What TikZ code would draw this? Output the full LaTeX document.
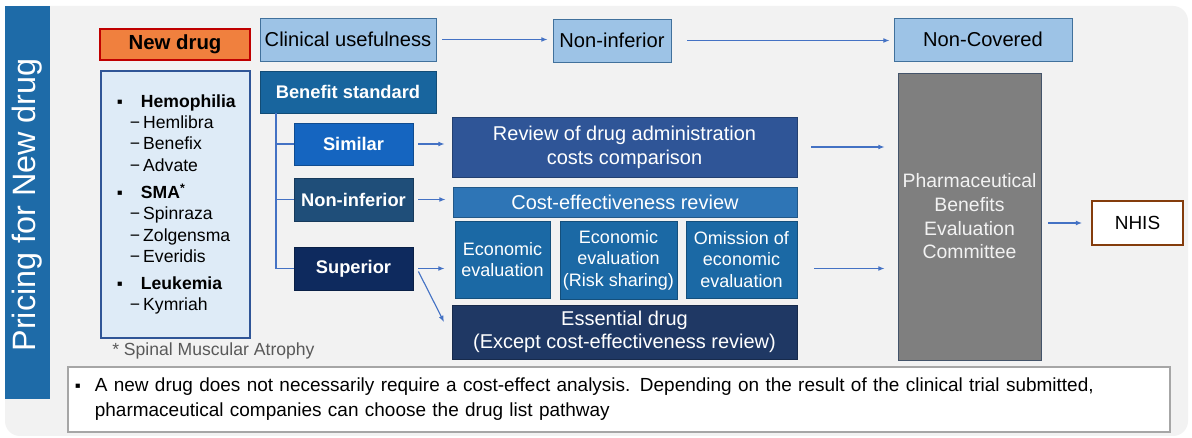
\documentclass[tikz,border=0pt]{standalone}
\usepackage{fontspec}
\setmainfont{Liberation Sans}
\usetikzlibrary{arrows.meta}

\definecolor{panelgray}{RGB}{242,242,242}
\definecolor{barblue}{RGB}{30,107,168}
\definecolor{orangefill}{RGB}{240,128,62}
\definecolor{redline}{RGB}{192,0,0}
\definecolor{lightblue}{RGB}{157,195,230}
\definecolor{lightedge}{RGB}{65,113,156}
\definecolor{listfill}{RGB}{222,235,247}
\definecolor{listedge}{RGB}{47,85,151}
\definecolor{stdblue}{RGB}{24,101,158}
\definecolor{simblue}{RGB}{21,101,192}
\definecolor{nonblue}{RGB}{31,78,121}
\definecolor{supblue}{RGB}{14,42,94}
\definecolor{revblue}{RGB}{47,85,151}
\definecolor{ceblue}{RGB}{46,117,182}
\definecolor{ecoblue}{RGB}{27,105,165}
\definecolor{essblue}{RGB}{31,56,100}
\definecolor{committee}{RGB}{127,127,127}
\definecolor{committeeedge}{RGB}{68,84,106}
\definecolor{brownline}{RGB}{132,60,12}
\definecolor{arrowblue}{RGB}{68,114,196}
\definecolor{notegray}{RGB}{89,89,89}

% one pixel of the layout grid
\def\px{0.025cm}
\newlength\pxl \setlength\pxl{0.025cm}
\newcommand\fsz[2]{\fontsize{#1}{#2}\selectfont}
\newcommand\dgroup[1]{\makebox[24\pxl][l]{\fsz{12}{10}▪}\textbf{#1}}
\newcommand\ditem[1]{\hspace*{13\pxl}−\hspace{3\pxl}#1}

\tikzset{
  box/.style={rectangle, draw, align=center, inner sep=1pt, line width=0.6pt},
  lightbox/.style={box, fill=lightblue, draw=lightedge, text=black, font=\fsz{14.3}{17}},
  darkbox/.style={box, fill=#1, draw=#1!75!black, text=white, font=\fsz{14}{17}},
  flow/.style={draw=arrowblue, line width=0.8pt, -{Latex[length=4.5pt,width=3.5pt]}},
  link/.style={draw=arrowblue, line width=0.8pt},
}

\begin{document}
\begin{tikzpicture}[x=0.025cm, y=-0.025cm]
\useasboundingbox (0,0) rectangle (1192,438);
\fill[white] (0,0) rectangle (1192,438);
\fill[panelgray, rounded corners=0.375cm] (5,6) rectangle (1188,436);
\fill[barblue] (5,6) rectangle (50,399);
\node[rotate=90, text=white, font=\fsz{23}{27}] (title) at (27.5,205) {Pricing for New drug};

% top row
\node[box, fill=orangefill, draw=redline, line width=1pt, font=\fsz{14.5}{17}\bfseries,
      minimum width=150*\px, minimum height=31*\px] (newdrug) at (175,44.5) {New drug};
\node[lightbox, minimum width=176*\px, minimum height=43*\px] (clin) at (348,39.5) {Clinical usefulness};
\node[lightbox, minimum width=118*\px, minimum height=43*\px] (noninf) at (612,40.5) {Non-inferior};
\node[lightbox, minimum width=178*\px, minimum height=43*\px] (noncov) at (983,39.5) {Non-Covered};

% disease list
\node[box, fill=listfill, draw=listedge, line width=1pt, align=left, text width=2.925cm,
      inner xsep=0.4cm, minimum height=267*\px, font=\fsz{12.5}{15.2}] (drugs) at (175.5,204.5) {%
  \dgroup{Hemophilia}\\ \ditem{Hemlibra}\\ \ditem{Benefix}\\ \ditem{Advate}\\[4pt]
  \dgroup{SMA\textsuperscript{*}}\\ \ditem{Spinraza}\\ \ditem{Zolgensma}\\ \ditem{Everidis}\\[4pt]
  \dgroup{Leukemia}\\ \ditem{Kymriah}};
\node[anchor=west, text=notegray, inner sep=0pt, font=\fsz{12.5}{15}] (smanote) at (112,351) {* Spinal Muscular Atrophy};

% benefit standard and its three cases
\node[darkbox=stdblue, font=\fsz{13}{16}\bfseries, minimum width=176*\px, minimum height=42*\px] (benefit) at (348,92) {Benefit standard};
\node[darkbox=simblue, font=\fsz{13}{16}\bfseries, minimum width=119*\px, minimum height=42*\px] (similar) at (353.5,144) {Similar};
\node[darkbox=nonblue, font=\fsz{13}{16}\bfseries, minimum width=119*\px, minimum height=43*\px] (noninfb) at (353.5,199.5) {Non-inferior};
\node[darkbox=supblue, font=\fsz{13}{16}\bfseries, minimum width=119*\px, minimum height=43*\px] (superior) at (353.5,268.5) {Superior};

\coordinate (trunk) at (276,113);
\draw[link] (trunk) |- (superior.west);
\draw[link] (trunk |- similar) -- (similar.west);
\draw[link] (trunk |- noninfb) -- (noninfb.west);

% review paths
\node[darkbox=revblue, font=\fsz{14.2}{17}, minimum width=345*\px, minimum height=60*\px] (review) at (624.5,147) {Review of drug administration\\costs comparison};
\node[darkbox=ceblue, font=\fsz{14.2}{16}, minimum width=344*\px, minimum height=30*\px] (cer) at (625,202) {Cost-effectiveness review};
\node[darkbox=ecoblue, font=\fsz{12.8}{15.2}, minimum width=95*\px, minimum height=77*\px] (econa) at (502.5,259.5) {Economic\\evaluation};
\node[darkbox=ecoblue, font=\fsz{12.8}{15.2}, minimum width=117*\px, minimum height=78*\px] (econb) at (618.5,260) {Economic\\evaluation\\(Risk sharing)};
\node[darkbox=ecoblue, font=\fsz{12.8}{15.2}, minimum width=111*\px, minimum height=77*\px] (econc) at (741.5,259.5) {Omission of\\economic\\evaluation};
\node[darkbox=essblue, font=\fsz{14.2}{16.8}, minimum width=345*\px, minimum height=54*\px] (essential) at (624.5,332) {Essential drug\\(Except cost-effectiveness review)};

% committee and NHIS
\node[box, fill=committee, draw=committeeedge, text=panelgray, font=\fsz{13.8}{16.8},
      minimum width=143*\px, minimum height=287*\px] (pbec) at (969.5,216.5) {Pharmaceutical\\Benefits\\Evaluation\\Committee};
\node[box, fill=white, draw=brownline, line width=1.2pt, font=\fsz{13.5}{16},
      minimum width=91*\px, minimum height=44*\px] (nhis) at (1137.5,223) {NHIS};

% arrows
\draw[flow, shorten <=6*\px, shorten >=5*\px] (clin.east) -- (clin.east -| noninf.west);
\draw[flow, shorten <=16*\px, shorten >=4*\px] (noninf.east) -- (noninf.east -| noncov.west);
\draw[flow, shorten <=5*\px, shorten >=7*\px] (similar.east) -- (similar.east -| review.west);
\draw[flow, shorten <=5*\px, shorten >=7*\px] (noninfb.east) -- (noninfb.east -| cer.west);
\draw[flow, shorten <=5*\px, shorten >=10*\px] (superior.east) -- (superior.east -| econa.west);
\coordinate (esstip) at (444,322);
\draw[flow] (superior.east) ++(5,3) -- (esstip);
\draw[flow, shorten <=14*\px, shorten >=13*\px] (review.east) -- (review.east -| pbec.west);
\draw[flow, shorten <=17*\px, shorten >=13*\px] (econc.east |- superior) -- (pbec.west |- superior);
\draw[flow, shorten <=7*\px, shorten >=9*\px] (pbec.east |- nhis) -- (nhis.west);

% note at the bottom
\node[box, fill=white, draw=black!35, line width=1pt, align=left, text width=27.2cm,
      inner xsep=0.175cm, minimum height=65*\px, font=\fsz{13.5}{17.7}] (note) at (619,399.5) {%
  \makebox[20\pxl][l]{\fsz{12}{10}▪}A new drug does not necessarily require a cost-effect analysis. Depending on the result of the clinical trial submitted,\\
  \hspace*{20\pxl}pharmaceutical companies can choose the drug list pathway};
\end{tikzpicture}
\end{document}
